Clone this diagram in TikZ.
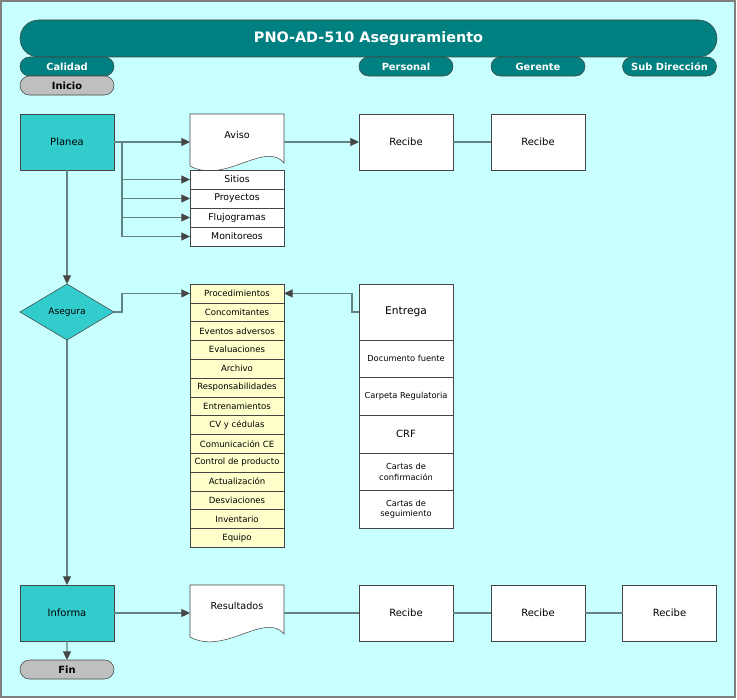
\documentclass[tikz,border=0pt]{standalone}
\usepackage{fontspec}
\setmainfont{DejaVu Sans}
\usetikzlibrary{shapes.geometric,shapes.misc,arrows.meta}

\definecolor{fondo}{RGB}{200,255,255}
\definecolor{verdeo}{RGB}{0,128,128}
\definecolor{turq}{RGB}{51,204,204}
\definecolor{crema}{RGB}{255,255,204}
\definecolor{gris}{RGB}{191,191,191}
\definecolor{linea}{RGB}{100,130,130}
\definecolor{borde}{RGB}{70,70,70}

% hoja con borde ondulado, centrada en (#1,#2)
\newcommand{\hoja}[2]{%
  \draw[fill=white, draw=borde] ({#1-47},{#2-28}) -- ({#1+47},{#2-28})
    -- ({#1+47},{#2+21})
    .. controls ({#1+28},{#2-2}) and ({#1-12},{#2+43}) ..
    ({#1-47},{#2+24}) -- cycle;}

\tikzset{
  carril/.style={rounded rectangle, fill=verdeo, draw=borde, text=white,
    font=\bfseries\fontsize{7.4}{8}\selectfont, minimum width=70.5pt,
    minimum height=14.25pt, inner sep=0pt, outer sep=0pt},
  terminal/.style={carril, fill=gris, text=black},
  proceso/.style={rectangle, fill=turq, draw=borde, minimum width=70.5pt,
    minimum height=42pt, inner sep=0pt, outer sep=0pt,
    font=\fontsize{7.5}{8}\selectfont},
  caja/.style={proceso, fill=white},
  renglon/.style={rectangle, fill=white, draw=borde, minimum width=70.5pt,
    minimum height=14.25pt, inner sep=0pt, outer sep=0pt,
    font=\fontsize{7}{8}\selectfont},
  registro/.style={renglon, fill=crema, minimum height=14.1pt,
    font=\fontsize{6.4}{7}\selectfont},
  celda/.style={renglon, minimum height=28.2pt, align=center,
    font=\fontsize{6.2}{8}\selectfont},
  flecha/.style={draw=linea, line width=0.8pt,
    -{Triangle[length=6.5pt,width=6pt,color=borde]}},
  liga/.style={draw=linea, line width=0.8pt},
}

\begin{document}
\begin{tikzpicture}[x=0.75pt,y=-0.75pt]
\useasboundingbox (0,0) rectangle (737,699);
\draw[fill=fondo, draw=gray, line width=1pt] (1,1) rectangle (735,697);

% encabezado y carriles
\node[carril, minimum width=522.75pt, minimum height=27.75pt,
  font=\bfseries\fontsize{10.8}{13}\selectfont] (titulo) at (368.5,38.5)
  {PNO-AD-510 Aseguramiento};
\node[carril] (calidad) at (67,66.5) {Calidad};
\node[carril] (personal) at (406,66.5) {Personal};
\node[carril] (gerente) at (538,66.5) {Gerente};
\node[carril] (subdir) at (669.5,66.5) {Sub Dirección};
\node[terminal] (inicio) at (67,85.5) {Inicio};

% planea
\node[proceso] (planea) at (67,142) {Planea};
\hoja{237}{142}
\node[minimum width=70.5pt, minimum height=42pt, inner sep=0pt,
  outer sep=0pt] (aviso) at (237,142) {};
\node[font=\fontsize{7.2}{8}\selectfont] (avisotxt) at (237,135) {Aviso};
\node[caja] (recibeA) at (406,142) {Recibe};
\node[caja] (recibeB) at (538,142) {Recibe};

\foreach \t [count=\i from 0] in {Sitios, Proyectos, Flujogramas, Monitoreos}
  \node[renglon] (s\i) at (237,{179.5+19*\i}) {\t};

\coordinate (pj) at ([xshift=6pt]planea.east);
\draw[flecha] (planea) -- (aviso);
\foreach \i in {0,...,3}
  \draw[flecha] (pj) |- (s\i.west);
\draw[flecha] (aviso) -- (recibeA);
\draw[liga] (recibeA) -- (recibeB);

% asegura
\node[diamond, fill=turq, draw=borde, minimum width=70.5pt,
  minimum height=42pt, inner sep=0pt, outer sep=0pt,
  font=\fontsize{6.8}{7.5}\selectfont] (asegura) at (67,312) {Asegura};
\draw[flecha] (planea) -- (asegura);

\foreach \t [count=\i from 0] in {Procedimientos, Concomitantes,
  Eventos adversos, Evaluaciones, Archivo, Responsabilidades,
  Entrenamientos, CV y cédulas, Comunicación CE, Control de producto,
  Actualización, Desviaciones, Inventario, Equipo}
  \node[registro] (p\i) at (237,{293.4+18.8*\i}) {\t};
\draw[flecha] (asegura.east) -- ++(8,0) |- (p0.west);

\node[caja, font=\fontsize{8}{9}\selectfont] (entrega) at (406,312) {Entrega};
\foreach \t [count=\i from 0] in {Documento fuente, Carpeta Regulatoria,
  \fontsize{7.5}{9}\selectfont CRF, {Cartas de\\confirmación},
  {Cartas de\\seguimiento}}
  \node[celda] (e\i) at (406,{358.8+37.6*\i}) {\t};
\draw[flecha] (entrega.west) -- ++(-7,0) |- (p0.east);

% informa
\node[proceso] (informa) at (67,613) {Informa};
\draw[flecha] (asegura) -- (informa);
\hoja{237}{613}
\node[minimum width=70.5pt, minimum height=42pt, inner sep=0pt,
  outer sep=0pt] (result) at (237,613) {};
\node[font=\fontsize{7.2}{8}\selectfont] (resulttxt) at (237,606) {Resultados};
\node[caja] (recibeC) at (406,613) {Recibe};
\node[caja] (recibeD) at (538,613) {Recibe};
\node[caja] (recibeE) at (669.5,613) {Recibe};
\draw[flecha] (informa) -- (result);
\draw[liga] (result) -- (recibeC) (recibeC) -- (recibeD) (recibeD) -- (recibeE);

\node[terminal] (fin) at (67,669.5) {Fin};
\draw[flecha] (informa) -- (fin);
\end{tikzpicture}
\end{document}
